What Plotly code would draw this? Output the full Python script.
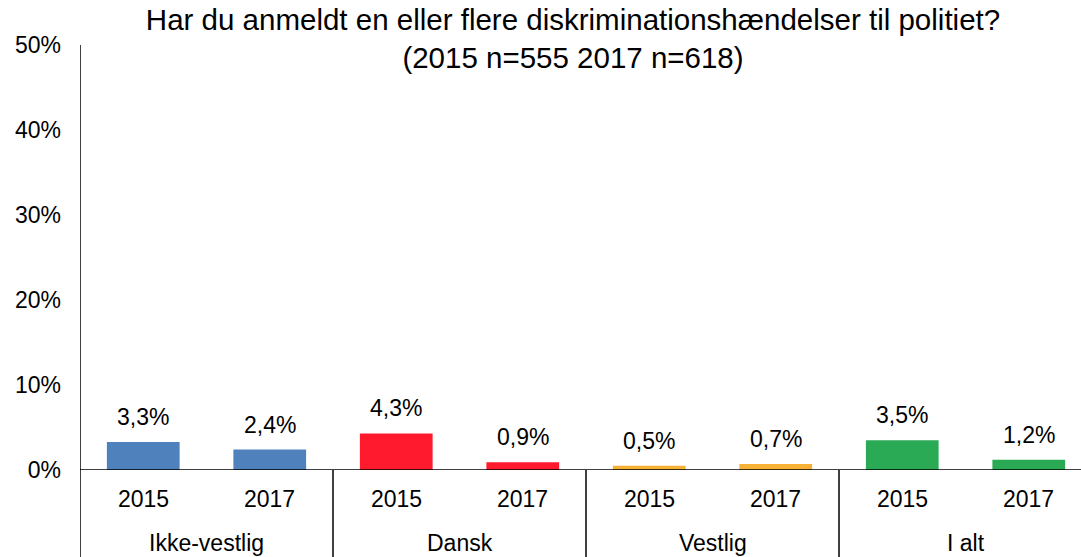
import plotly.graph_objects as go

groups = ["Ikke-vestlig", "Dansk", "Vestlig", "I alt"]
years = ["2015", "2017"]
values = [3.3, 2.4, 4.3, 0.9, 0.5, 0.7, 3.5, 1.2]
group_colors = ["#4F81BD", "#FF1A2E", "#F7B135", "#2BAA56"]
y_ticks = [0, 10, 20, 30, 40, 50]
title = "Har du anmeldt en eller flere diskriminationshændelser til politiet?<br>(2015 n=555 2017 n=618)"

FONT = "Liberation Sans, Arial, sans-serif"
W, H = 1081, 557
ML, MR, MT, MB = 80, 0, 45, 87
plot_h = H - MT - MB
ybot = -MB / plot_h
LBL = 23

xs = list(range(len(values)))
colors = [group_colors[i // 2] for i in xs]

fig = go.Figure(go.Bar(x=xs, y=values, marker_color=colors, width=0.575,
                       marker_line_width=0, hoverinfo="skip"))

annotations = []
for i, v in zip(xs, values):
    annotations.append(dict(x=i, y=v, xref="x", yref="y", text=f"{v:.1f}%".replace(".", ","),
                            showarrow=False, yanchor="bottom", yshift=10,
                            font=dict(family=FONT, size=LBL, color="#000")))
    annotations.append(dict(x=i, y=-29.5 / plot_h, xref="x", yref="paper", text=years[i % 2],
                            showarrow=False, yanchor="middle",
                            font=dict(family=FONT, size=LBL, color="#000")))
for g, name in enumerate(groups):
    annotations.append(dict(x=2 * g + 0.5, y=-73 / plot_h, xref="x", yref="paper", text=name,
                            showarrow=False, yanchor="middle",
                            font=dict(family=FONT, size=LBL, color="#000")))

shapes = [dict(type="line", xref="x", yref="paper", x0=-0.5, x1=-0.5, y0=ybot, y1=1,
               line=dict(color="#000", width=1.5)),
          dict(type="line", xref="paper", yref="y", x0=0, x1=1, y0=0, y1=0,
               line=dict(color="#000", width=1.5))]
for g in range(1, len(groups)):
    shapes.append(dict(type="line", xref="x", yref="paper", x0=2 * g - 0.5, x1=2 * g - 0.5,
                       y0=ybot, y1=0, line=dict(color="#000", width=1.5)))

fig.update_layout(
    width=W, height=H, margin=dict(l=ML, r=MR, t=MT, b=MB),
    paper_bgcolor="white", plot_bgcolor="white", showlegend=False,
    title=dict(text=title, x=573 / W, xanchor="center", y=1 - 30 / H, yanchor="top",
               font=dict(family=FONT, size=29.5, color="#000")),
    xaxis=dict(range=[-0.5, 7.413], showticklabels=False, showgrid=False,
               zeroline=False, showline=False, ticks=""),
    yaxis=dict(range=[0, 50], tickvals=y_ticks, ticktext=[f"{t}%" for t in y_ticks],
               showgrid=False, zeroline=False, showline=False, ticks="",
               ticklabelstandoff=18,
               tickfont=dict(family=FONT, size=LBL, color="#000")),
    annotations=annotations, shapes=shapes,
)

fig.write_html("out.html", config={"displayModeBar": False},
               post_script="document.body.style.margin='0';document.body.style.overflow='hidden';")
